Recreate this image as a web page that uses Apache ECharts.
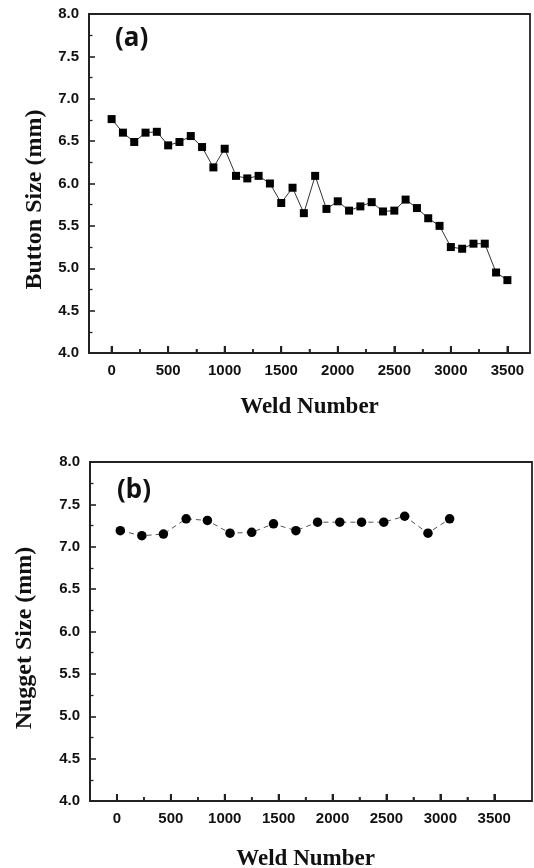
<!DOCTYPE html>
<html>
<head>
<meta charset="utf-8">
<script src="https://cdn.jsdelivr.net/npm/echarts@6/dist/echarts.min.js"></script>
<style>html,body{margin:0;padding:0;background:#fff;}#c{width:534px;height:868px;}</style>
</head>
<body>
<div id="c"></div>
<script>
// ---- data ----
var weldA = [0,100,200,300,400,500,600,700,800,900,1000,1100,1200,1300,1400,1500,1600,1700,1800,1900,2000,2100,2200,2300,2400,2500,2600,2700,2800,2900,3000,3100,3200,3300,3400,3500];
var buttonSize = [6.76,6.60,6.49,6.60,6.61,6.45,6.49,6.56,6.43,6.19,6.41,6.09,6.06,6.09,6.00,5.77,5.95,5.65,6.09,5.70,5.79,5.68,5.73,5.78,5.67,5.68,5.81,5.71,5.59,5.50,5.25,5.23,5.29,5.29,4.95,4.86];
var weldB = [31,231,431,642,839,1049,1250,1452,1660,1861,2067,2269,2475,2669,2885,3086];
var nuggetSize = [7.19,7.13,7.15,7.33,7.31,7.16,7.17,7.27,7.19,7.29,7.29,7.29,7.29,7.36,7.16,7.33];
var xTickLabels = ['0','500','1000','1500','2000','2500','3000','3500'];
var yTickLabels = ['4.0','4.5','5.0','5.5','6.0','6.5','7.0','7.5','8.0'];
var xMajorTicks = [0,500,1000,1500,2000,2500,3000,3500];
var xMinorTicks = [250,750,1250,1750,2250,2750,3250];

function pairs(xs, ys){ return xs.map(function(x,i){ return [x, ys[i]]; }); }
function atBase(xs){ return xs.map(function(x){ return [x, 4]; }); }

var tickFont = {fontFamily:'Liberation Sans, Arial, sans-serif', fontWeight:'bold', fontSize:15, color:'#111'};
var titleFont = {fontFamily:'Liberation Serif, Times New Roman, serif', fontWeight:'bold', fontSize:23, color:'#111'};
var clear = 'rgba(0,0,0,0)';

function frameYAxis(gridIndex, name, gap, pad){
  return {
    type:'value', gridIndex:gridIndex, min:4, max:8, interval:0.5,
    name:name, nameLocation:'middle', nameGap:gap,
    nameTextStyle: Object.assign({}, titleFont, {fontSize:24, padding:pad}),
    axisLine:{show:true, onZero:false, lineStyle:{color:'#222', width:1.8}},
    axisTick:{show:true, inside:true, length:6, lineStyle:{color:'#222', width:1.6}},
    minorTick:{show:true, splitNumber:2, length:3.5, lineStyle:{color:'#222', width:1.3}},
    splitLine:{lineStyle:{color:clear}},
    axisLabel: Object.assign({}, tickFont, {margin:10, formatter:function(v){ var i = Math.round((v-4)/0.5); return yTickLabels[i]; }})
  };
}
function frameXAxis(gridIndex, mn, mx){
  return {type:'value', gridIndex:gridIndex, min:mn, max:mx, show:false};
}
function tickXAxis(gridIndex, gap){
  return {
    type:'value', gridIndex:gridIndex, min:0, max:3500, interval:500,
    name:'Weld Number', nameLocation:'middle', nameGap:gap, nameTextStyle:titleFont,
    axisLine:{show:true, onZero:false, lineStyle:{color:'#222', width:1.8}},
    axisTick:{show:true, inside:true, length:7, lineStyle:{color:'#222', width:2}},
    minorTick:{show:true, splitNumber:2, length:4, lineStyle:{color:'#222', width:1.6}},
    splitLine:{lineStyle:{color:clear}},
    axisLabel: Object.assign({}, tickFont, {margin:10, formatter:function(v){ return xTickLabels[Math.round(v/500)]; }})
  };
}
function hiddenY(gridIndex){ return {type:'value', gridIndex:gridIndex, min:4, max:8, show:false}; }
function tickMarks(xi, yi, xs, len, w){
  return {type:'scatter', xAxisIndex:xi, yAxisIndex:yi, data:atBase(xs), silent:true, clip:false,
    symbol:'rect', symbolSize:[w, len], symbolOffset:[0, -len/2], itemStyle:{color:'#222'}, z:5};
}

var chart = echarts.init(document.getElementById('c'));
chart.setOption({
  backgroundColor:'#fff',
  animation:false,
  grid:[
    {left:89, top:14, width:441, height:339, show:true, borderColor:'#222', borderWidth:1.8, outerBoundsMode:'none'},
    {left:111.6, top:14, width:395.8, height:339, outerBoundsMode:'none'},
    {left:90, top:462, width:442, height:339, show:true, borderColor:'#222', borderWidth:1.8, outerBoundsMode:'none'},
    {left:116.95, top:462, width:377.3, height:339, outerBoundsMode:'none'}
  ],
  xAxis:[
    frameXAxis(0, -200, 3700),
    tickXAxis(1, 43),
    frameXAxis(2, -250, 3850),
    tickXAxis(3, 47)
  ],
  yAxis:[
    frameYAxis(0, 'Button Size (mm)', 42, [0,32,0,0]),
    hiddenY(1),
    frameYAxis(2, 'Nugget Size (mm)', 53, [0,13,0,0]),
    hiddenY(3)
  ],
  graphic:[
    {type:'text', left:115, top:26, style:{text:'(a)', font:'bold 26px "Noto Sans", sans-serif', fill:'#111'}},
    {type:'text', left:117, top:478, style:{text:'(b)', font:'bold 26px "Noto Sans", sans-serif', fill:'#111'}}
  ],
  series:[
    {type:'line', xAxisIndex:0, yAxisIndex:0, data:pairs(weldA, buttonSize),
     symbol:'rect', symbolSize:8, showAllSymbol:true, clip:false,
     itemStyle:{color:'#000'}, lineStyle:{color:'#333', width:1}},
    {type:'line', xAxisIndex:2, yAxisIndex:2, data:pairs(weldB, nuggetSize),
     symbol:'circle', symbolSize:9.5, showAllSymbol:true, clip:false,
     itemStyle:{color:'#000'}, lineStyle:{color:'#555', width:1, type:[5,4]}},
    tickMarks(1, 1, xMajorTicks, 7, 2),
    tickMarks(1, 1, xMinorTicks, 4, 1.6),
    tickMarks(3, 3, xMajorTicks, 7, 2),
    tickMarks(3, 3, xMinorTicks, 4, 1.6)
  ]
});
</script>
</body>
</html>
